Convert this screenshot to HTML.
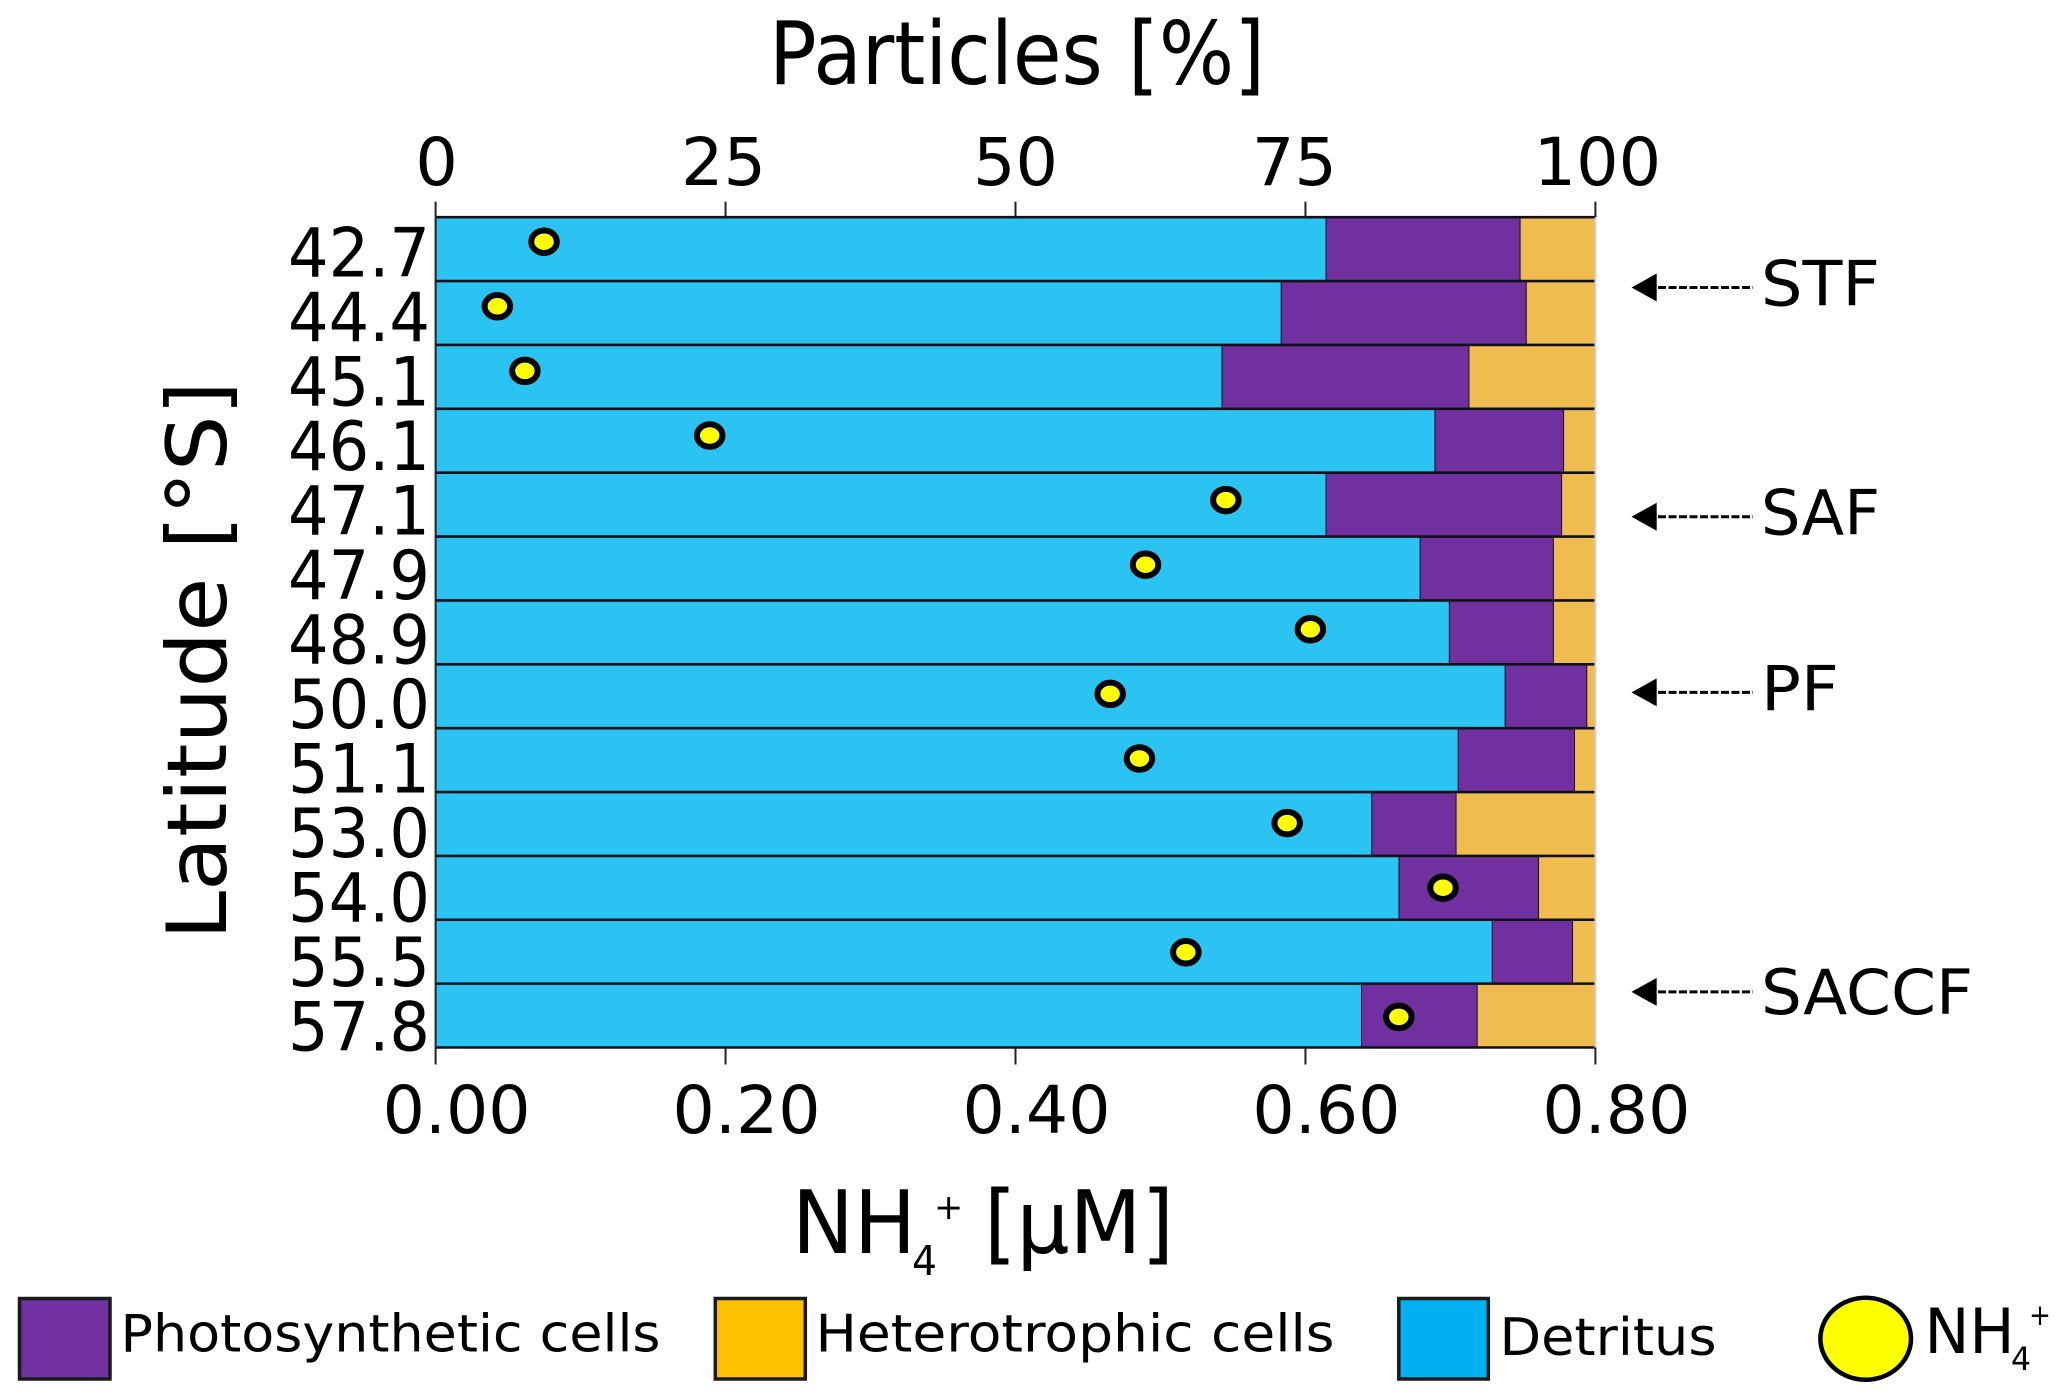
<!DOCTYPE html>
<html lang="en">
<head>
<meta charset="utf-8">
<title>Particles and NH4+ by latitude</title>
<style>
html,body{margin:0;padding:0;background:#fff;}
svg{display:block;}
text{font-family:"DejaVu Sans","Liberation Sans",sans-serif;fill:#000;}
</style>
</head>
<body>
<svg id="chart" width="2067" height="1400" viewBox="0 0 2067 1400" xmlns="http://www.w3.org/2000/svg">
  <g id="bars"></g>
  <g id="axes"></g>
  <g id="points"></g>

  <text x="769" y="84" font-size="87" textLength="496" lengthAdjust="spacingAndGlyphs">Particles [%]</text>
  <text transform="translate(226,940) rotate(-90)" x="0" y="0" font-size="83" textLength="559" lengthAdjust="spacingAndGlyphs">Latitude [°S]</text>

  <g>
    <text x="792" y="1253" font-size="87" textLength="124" lengthAdjust="spacingAndGlyphs">NH</text>
    <text x="912" y="1275" font-size="41" textLength="25" lengthAdjust="spacingAndGlyphs">4</text>
    <text x="934" y="1219" font-size="35">+</text>
    <text x="984" y="1253" font-size="87" textLength="190" lengthAdjust="spacingAndGlyphs">[µM]</text>
  </g>

  <g id="fronts"></g>

  <g>
    <g>
      <rect x="19.5" y="1298.5" width="90.5" height="80.5" fill="#7030A0" stroke="#1a1a1a" stroke-width="3.5"/>
      <text x="120.5" y="1351.7" font-size="52" textLength="540" lengthAdjust="spacingAndGlyphs">Photosynthetic cells</text>
    </g>
    <g>
      <rect x="715.3" y="1298.5" width="90" height="80.5" fill="#FFC000" stroke="#1a1a1a" stroke-width="3.5"/>
      <text x="815.5" y="1351.7" font-size="52" textLength="519" lengthAdjust="spacingAndGlyphs">Heterotrophic cells</text>
    </g>
    <g>
      <rect x="1398.8" y="1298.5" width="89.5" height="80.5" fill="#00B0F0" stroke="#1a1a1a" stroke-width="3.5"/>
      <text x="1499.5" y="1355" font-size="52" textLength="217" lengthAdjust="spacingAndGlyphs">Detritus</text>
    </g>
    <g>
      <ellipse cx="1865.7" cy="1338.7" rx="45.3" ry="41" fill="#FFFF00" stroke="#000" stroke-width="4.5"/>
      <text x="1924.5" y="1353" font-size="62" textLength="90" lengthAdjust="spacingAndGlyphs">NH</text>
      <text x="2011" y="1370" font-size="32" textLength="20" lengthAdjust="spacingAndGlyphs">4</text>
      <text x="2029" y="1325" font-size="29" textLength="22" lengthAdjust="spacingAndGlyphs">+</text>
    </g>
  </g>
</svg>

<script>
// Chart data
const latitudes = ["42.7","44.4","45.1","46.1","47.1","47.9","48.9","50.0","51.1","53.0","54.0","55.5","57.8"];
const detritus = [76.82,72.95,67.85,86.21,76.82,84.93,87.45,92.26,88.21,80.76,83.11,91.15,79.88];
const photosynthetic = [16.73,21.13,21.29,11.09,20.31,11.49,8.97,7.04,10.03,7.27,12.03,6.92,9.97];
const heterotrophic = [6.45,5.92,10.86,2.70,2.87,3.58,3.58,0.70,1.76,11.97,4.86,1.93,10.15];
const nh4 = [0.0748,0.0426,0.0616,0.1891,0.5451,0.4897,0.6034,0.4653,0.4855,0.5874,0.6949,0.5175,0.6644];
const percentTicks = [0,25,50,75,100];
const concentrationTicks = ["0.00","0.20","0.40","0.60","0.80"];
const frontNames = ["STF","SAF","PF","SACCF"];
// Where each front falls along the latitude rows, in row units from the top of the plot
const frontRows = [1.10,4.69,7.44,12.13];

const SVGNS = "http://www.w3.org/2000/svg";
const plotLeft = 435.6, plotRight = 1595.4, plotTop = 217.2, plotBottom = 1047.5;
const xPercent = v => plotLeft + (v / 100) * (plotRight - plotLeft);
const xConc = v => plotLeft + (v / 0.8) * (plotRight - plotLeft);
const rowHeight = (plotBottom - plotTop) / latitudes.length;
const rowTop = i => plotTop + i * rowHeight;
const pointY = i => 241.7 + i * 64.6;
const labelY = i => 276.7 + i * 64.5;

function make(tag, attrs, text) {
  const el = document.createElementNS(SVGNS, tag);
  for (const k in attrs) el.setAttribute(k, attrs[k]);
  if (text !== undefined) el.textContent = text;
  return el;
}

const barsG = document.getElementById("bars");
const axesG = document.getElementById("axes");
const pointsG = document.getElementById("points");
const frontsG = document.getElementById("fronts");

const segmentColors = ["#2BC3F1", "#7030A0", "#EFBD4F"];
const segmentNames = ["detritus", "photosynthetic", "heterotrophic"];

latitudes.forEach((lat, i) => {
  const values = [detritus[i], photosynthetic[i], heterotrophic[i]];
  let start = 0;
  values.forEach((v, s) => {
    const x1 = xPercent(start);
    const x2 = xPercent(start + v);
    const rect = make("rect", {x: x1, y: rowTop(i), width: x2 - x1, height: rowHeight, fill: segmentColors[s]});
    
    
    barsG.appendChild(rect);
    start += v;
    if (s < 2) {
      const divider = make("line", {x1: x2, x2: x2, y1: rowTop(i), y2: rowTop(i) + rowHeight, stroke: "#101018", "stroke-width": 2});
      
      
      barsG.appendChild(divider);
    }
  });
});

for (let i = 0; i <= latitudes.length; i++) {
  const rule = make("line", {x1: plotLeft, x2: plotRight, y1: rowTop(i), y2: rowTop(i), stroke: "#101018", "stroke-width": 2.6});
  
  
  barsG.appendChild(rule);
}

const leftAxis = make("line", {x1: plotLeft, x2: plotLeft, y1: plotTop, y2: plotBottom, stroke: "#222", "stroke-width": 2});


axesG.appendChild(leftAxis);

const rightAxis = make("line", {x1: plotRight, x2: plotRight, y1: plotTop, y2: plotBottom, stroke: "#cfcfcf", "stroke-width": 2});


axesG.appendChild(rightAxis);

percentTicks.forEach(t => {
  const x = xPercent(t);
  const tick = make("line", {x1: x, x2: x, y1: 201.7, y2: plotTop, stroke: "#222", "stroke-width": 2});
  
  
  axesG.appendChild(tick);
  const nudge = t === 75 ? -11 : (t === 100 ? 2 : (t === 25 ? -2 : (t === 0 ? 1 : 0)));
  const label = make("text", {x: x + nudge, y: 185, "font-size": 66, "text-anchor": "middle", textLength: String(t).length * 42.5, lengthAdjust: "spacingAndGlyphs"}, String(t));
  
  
  axesG.appendChild(label);
});

concentrationTicks.forEach(t => {
  const x = xConc(parseFloat(t));
  const tick = make("line", {x1: x, x2: x, y1: plotBottom, y2: 1064.5, stroke: "#222", "stroke-width": 2});
  
  
  axesG.appendChild(tick);
  const label = make("text", {x: x + 21, y: 1133, "font-size": 66, "text-anchor": "middle", textLength: 148, lengthAdjust: "spacingAndGlyphs"}, t);
  
  
  axesG.appendChild(label);
});

latitudes.forEach((lat, i) => {
  const label = make("text", {x: 288, y: labelY(i), "font-size": 68, textLength: 142, lengthAdjust: "spacingAndGlyphs"}, lat);
  
  
  axesG.appendChild(label);
});

nh4.forEach((v, i) => {
  const pt = make("ellipse", {cx: xConc(v), cy: pointY(i), rx: 12.75, ry: 11.25, fill: "#FFFF00", stroke: "#000", "stroke-width": 6});
  
  
  pointsG.appendChild(pt);
});

frontNames.forEach((name, k) => {
  const y = rowTop(frontRows[k]);
  const arrow = make("polygon", {points: "1631.5," + y + " 1656.7," + (y - 14) + " 1656.7," + (y + 14), fill: "#000"});
  
  
  frontsG.appendChild(arrow);
  const dash = make("line", {x1: 1658, x2: 1753, y1: y, y2: y, stroke: "#000", "stroke-width": 3, "stroke-dasharray": "8 2.5"});
  
  
  frontsG.appendChild(dash);
  const label = make("text", {x: 1761, y: y + (name === "SACCF" ? 22 : 18), "font-size": 62, textLength: name.length === 5 ? 212 : (name.length === 3 ? 119 : 78), lengthAdjust: "spacingAndGlyphs"}, name);
  
  
  frontsG.appendChild(label);
});
</script>
</body>
</html>
